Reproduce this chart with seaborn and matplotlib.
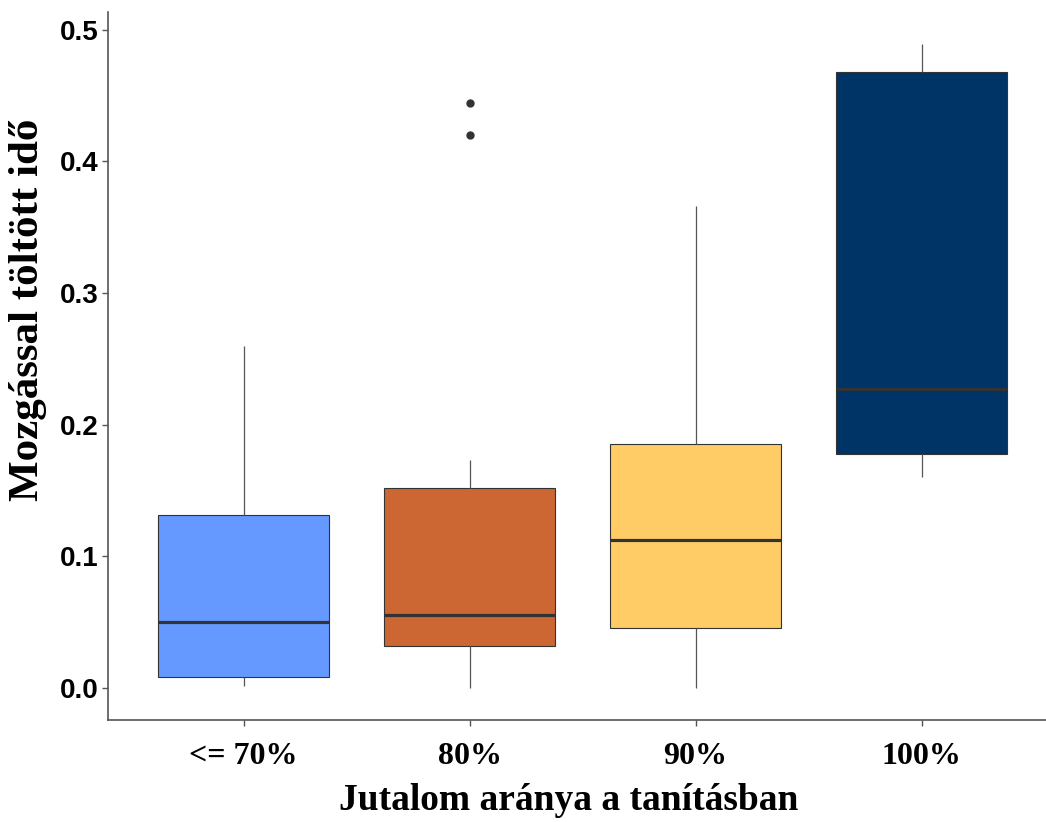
import matplotlib
matplotlib.use("Agg")
import matplotlib.pyplot as plt
import seaborn as sns
import pandas as pd

# Data (points chosen so the box statistics match the reference)
categories = ["<= 70%", "80%", "90%", "100%"]
vals_70 = [0.001, 0.0084, 0.050, 0.1315, 0.260]
vals_80 = [0.0, 0.010, 0.025, 0.032, 0.040, 0.050, 0.0555, 0.090, 0.130, 0.152, 0.173, 0.420, 0.444]
vals_90 = [0.0, 0.0456, 0.112, 0.185, 0.366]
vals_100 = [0.160, 0.178, 0.227, 0.4677, 0.489]
colors = ["#6699FF", "#CC6633", "#FFCC66", "#003366"]
yticks = [0.0, 0.1, 0.2, 0.3, 0.4, 0.5]
xlabel = "Jutalom aránya a tanításban"
ylabel = "Mozgással töltött idő"

groups = [vals_70, vals_80, vals_90, vals_100]
df = pd.DataFrame({
    "group": [c for c, g in zip(categories, groups) for _ in g],
    "value": [v for g in groups for v in g],
})

sns.set_style("white")
plt.rcParams["text.color"] = "black"
plt.rcParams["xtick.color"] = "#555555"
plt.rcParams["ytick.color"] = "#555555"
plt.rcParams["xtick.labelcolor"] = "black"
plt.rcParams["ytick.labelcolor"] = "black"
plt.rcParams["axes.labelcolor"] = "black"

fig = plt.figure(figsize=(10.46, 8.22), dpi=100)
ax = fig.add_axes([108 / 1046, (822 - 720) / 822, (1046 - 108) / 1046, 708 / 822])

sns.boxplot(
    data=df, x="group", y="value", hue="group", order=categories, hue_order=categories,
    palette=colors, width=0.76, linewidth=0.8, linecolor="#333333", saturation=1,
    showcaps=False, legend=False, ax=ax,
    medianprops=dict(linewidth=2.3, color="#333333"),
    whiskerprops=dict(linewidth=0.9, color="#555555"),
    flierprops=dict(marker="o", markerfacecolor="#333333", markeredgecolor="#333333", markersize=5),
)

ax.set_xlim(-0.6, -0.6 + 938 / 226)
ax.set_ylim(-0.0245, 0.5135)
ax.set_yticks(yticks)
ax.set_yticklabels([f"{t:.1f}" for t in yticks], fontfamily="Liberation Sans", fontweight="bold",
                   fontsize=20, color="black")
ax.set_xticks(range(len(categories)))
ax.set_xticklabels(categories, fontfamily="Liberation Serif", fontweight="bold", fontsize=23, color="black")

for s in ["top", "right"]:
    ax.spines[s].set_visible(False)
for s in ["left", "bottom"]:
    ax.spines[s].set_color("#555555")
    ax.spines[s].set_linewidth(1.2)
ax.tick_params(axis="both", which="major", length=4, width=1, color="#555555", direction="out")
ax.tick_params(axis="y", pad=3)
ax.tick_params(axis="x", pad=12)
ax.tick_params(left=True, bottom=True)

ax.set_xlabel(xlabel, fontfamily="Liberation Serif", fontweight="bold", fontsize=27, color="black")
ax.set_ylabel(ylabel, fontfamily="Liberation Serif", fontweight="bold", fontsize=31, color="black")
ax.xaxis.set_label_coords((569 - 108) / 938, (720 - 800) / 708)
ax.xaxis.label.set_va("center")
ax.yaxis.set_label_coords((28 - 108) / 938, (720 - 310) / 708)
ax.yaxis.label.set_va("center")
ax.grid(False)

fig.savefig("out.png", dpi=100)
